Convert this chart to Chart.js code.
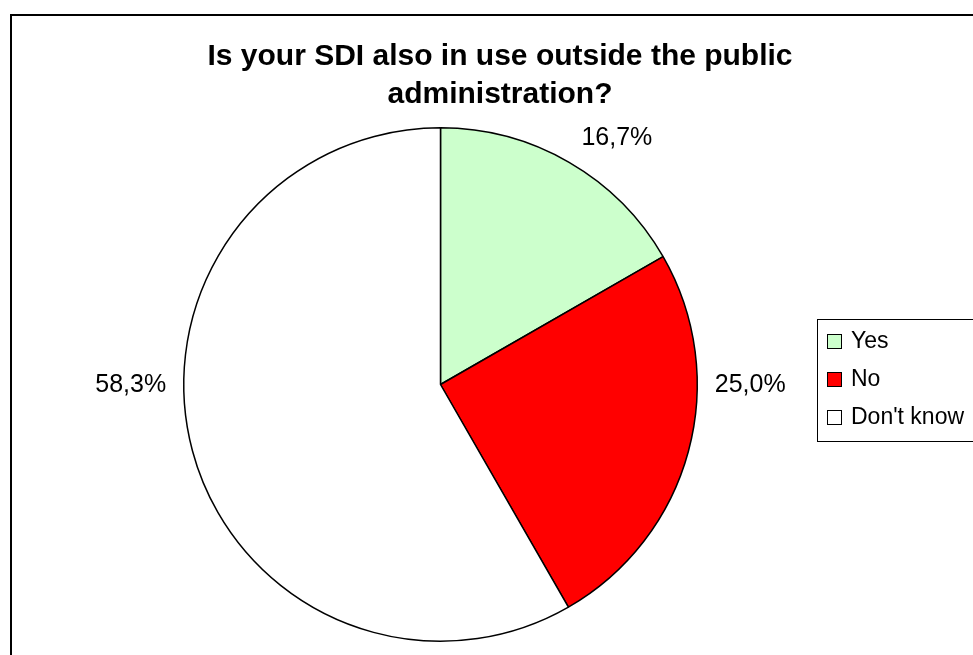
<!DOCTYPE html>
<html>
<head>
<meta charset="utf-8">
<title>SDI use outside the public administration</title>
<script src="https://cdn.jsdelivr.net/npm/chart.js@4.4.0/dist/chart.umd.min.js"></script>
<style>
  html, body { margin: 0; padding: 0; background: #fff; }
  canvas { display: block; }
</style>
</head>
<body>
<canvas id="sdi_chart" width="973" height="655"></canvas>
<script>
// Survey answers, in percent
var titleLines = ['Is your SDI also in use outside the public', 'administration?'];
var answers = ['Yes', 'No', "Don't know"];
var shares = [16.7, 25.0, 58.3];
var sliceColors = ['#CCFFCC', '#FF0000', '#FFFFFF'];

var FONT = '"Liberation Sans", Arial, sans-serif';

    // Percent with a decimal comma, e.g. 16,7%
    function formatShare(value) {
        return value.toFixed(1).replace('.', ',') + '%';
    }

    function $each(list, fn) {
        for (var i = 0; i < list.length; i++) fn(list[i], i);
    }

    // Outer frame and the two line title
    var framePlugin = {
        id: 'frame',
        afterDraw: function (chart, args, opts) {
            var ctx = chart.ctx;
            ctx.save();
            ctx.strokeStyle = '#000';
            ctx.lineWidth = 2;
            ctx.strokeRect(11, 15, chart.width + 20, chart.height + 20);

            ctx.fillStyle = '#000';
            ctx.font = 'bold 30px ' + FONT;
            ctx.textAlign = 'center';
            ctx.textBaseline = 'alphabetic';
            $each(opts.lines, function (line, i) {
                ctx.fillText(line, opts.x, opts.top + i * opts.lineHeight);
            });
            ctx.restore();
        }
    };

    // Percent labels outside the slices
    var sliceLabelPlugin = {
        id: 'sliceLabels',
        afterDatasetsDraw: function (chart, args, opts) {
            var ctx = chart.ctx;
            var meta = chart.getDatasetMeta(0);
            var values = chart.data.datasets[0].data;
            ctx.save();
            ctx.fillStyle = '#000';
            ctx.font = '25px ' + FONT;
            ctx.textAlign = 'center';
            ctx.textBaseline = 'middle';
            $each(meta.data, function (arc, i) {
                var p = arc.getProps(['x', 'y', 'outerRadius'], true);
                var angle = opts.angles[i] * Math.PI / 180;
                var dist = p.outerRadius + opts.gaps[i];
                ctx.fillText(formatShare(values[i]), p.x + dist * Math.cos(angle), p.y + dist * Math.sin(angle) + 1);
            });
            ctx.restore();
        }
    };

    // Boxed legend on the right
    var legendBoxPlugin = {
        id: 'legendBox',
        afterDraw: function (chart, args, opts) {
            var ctx = chart.ctx;
            var ds = chart.data.datasets[0];
            ctx.save();
            ctx.lineWidth = 1;
            ctx.strokeStyle = '#000';
            ctx.strokeRect(opts.x + 0.5, opts.y + 0.5, 200, opts.rowHeight * chart.data.labels.length + 8);
            ctx.font = '23px ' + FONT;
            ctx.textBaseline = 'middle';
            $each(chart.data.labels, function (label, i) {
                var cy = opts.y + 22 + i * opts.rowHeight;
                ctx.fillStyle = ds.backgroundColor[i];
                ctx.fillRect(opts.x + 10, cy - 7, 14, 14);
                ctx.strokeRect(opts.x + 10.5, cy - 6.5, 14, 14);
                ctx.fillStyle = '#000';
                ctx.fillText(label, opts.x + 34, cy + 1);
            });
            ctx.restore();
        }
    };

    function drawPie() {
        var ctx = document.getElementById('sdi_chart').getContext('2d');
        var config = {
            type: 'pie',
            data: {
                labels: answers,
                datasets: [{
                    data: shares,
                    backgroundColor: sliceColors,
                    borderColor: '#000',
                    borderWidth: 1.5,
                    hoverOffset: 0
                }]
            },
            options: {
                responsive: false,
                devicePixelRatio: 1,
                animation: false,
                layout: {
                    padding: { left: 183, right: 275, top: 127, bottom: 13 }
                },
                plugins: {
                    legend: { display: false },
                    title: { display: false },
                    tooltip: { enabled: false },
                    frame: { lines: titleLines, x: 500, top: 65, lineHeight: 38 },
                    sliceLabels: { angles: [-54.5, 0, 180], gaps: [47, 53, 53] },
                    legendBox: { x: 817, y: 319, rowHeight: 38 }
                }
            },
            plugins: [framePlugin, sliceLabelPlugin, legendBoxPlugin]
        };
        new Chart(ctx, config);
    }

    drawPie();
</script>
</body>
</html>
